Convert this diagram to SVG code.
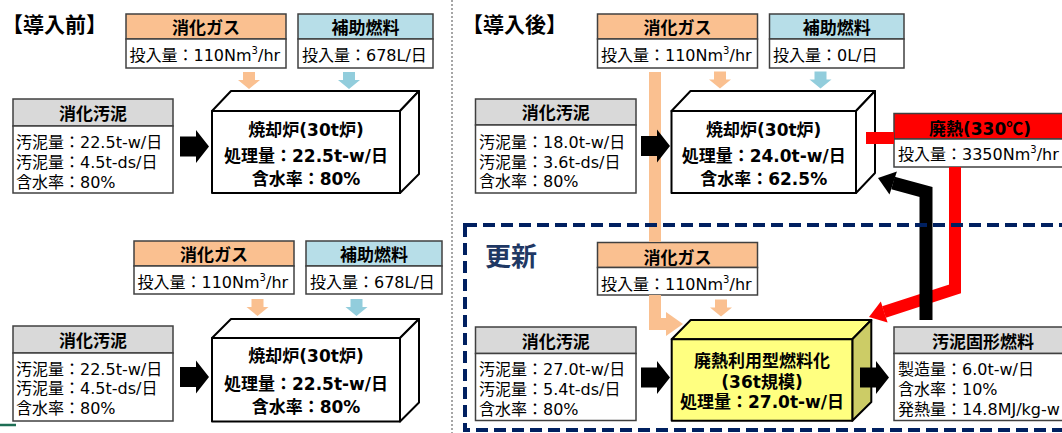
<svg xmlns="http://www.w3.org/2000/svg" xmlns:xlink="http://www.w3.org/1999/xlink" width="1062" height="433" viewBox="0 0 1062 433">
<style>
.t{font-family:"DejaVu Sans","Noto Sans CJK JP",sans-serif;font-size:16px;fill:#000}
.b{font-family:"DejaVu Sans","Noto Sans CJK JP",sans-serif;font-size:17px;font-weight:bold;fill:#000;text-anchor:middle}
.ttl{font-family:"Noto Sans CJK JP",sans-serif;font-size:21px;font-weight:bold;fill:#000}
.cjk{font-family:"Noto Sans CJK JP",sans-serif}
.bx{fill:#fff;stroke:#404040;stroke-width:1.5}
.ho{fill:#fac090;stroke:#404040;stroke-width:1.5}
.hb{fill:#b7dee8;stroke:#404040;stroke-width:1.5}
.hg{fill:#d9d9d9;stroke:#404040;stroke-width:1.5}
.hr{fill:#ff0000;stroke:#404040;stroke-width:1.5}
.f{fill:#fff;stroke:#000;stroke-width:2;stroke-linejoin:round}
.fy{fill:#ffff80;stroke:#000;stroke-width:2;stroke-linejoin:round}
.fys{fill:#cccc66;stroke:#000;stroke-width:2;stroke-linejoin:round}
.ao{fill:#fac090}
.ab{fill:#92cddc}
.ak{fill:#000}
</style>
<defs>
<path id="dn" d="M-6,0 H6 V8 H11 L0,17 L-11,8 H-6 Z"/>
<path id="ra" d="M0,-10 H16 V-16.5 L29,0 L16,16.5 V10 H0 Z"/>
</defs>

<line x1="452" y1="0" x2="452" y2="433" stroke="#a6a6a6" stroke-width="2" stroke-dasharray="2 2"/>
<line x1="0" y1="425" x2="16" y2="425" stroke="#1d6e54" stroke-width="2.5"/>

<text class="ttl" x="2" y="32">【導入前】</text>
<text class="ttl" x="462" y="32">【導入後】</text>

<!-- LEFT TOP -->
<g id="gas-L1">
<rect class="ho" x="126" y="14" width="160" height="25"/>
<rect class="bx" x="126" y="39" width="160" height="29"/>
<text class="b" x="206" y="34">消化ガス</text>
<text class="t" x="129.5" y="61">投入量：110Nm<tspan font-size="10" dy="-7">3</tspan><tspan dy="7">/hr</tspan></text>
</g>
<g id="fuel-L1">
<rect class="hb" x="298" y="14" width="135" height="25"/>
<rect class="bx" x="298" y="39" width="135" height="29"/>
<text class="b" x="365.5" y="34">補助燃料</text>
<text class="t" x="302" y="61">投入量：678L/日</text>
</g>
<g id="sludge-L1">
<rect class="hg" x="13" y="99" width="160" height="27"/>
<rect class="bx" x="13" y="126" width="160" height="67"/>
<text class="b" x="93" y="120">消化汚泥</text>
<text class="t" x="16" y="148">汚泥量：22.5t-w/日</text>
<text class="t" x="16" y="168">汚泥量：4.5t-ds/日</text>
<text class="t" x="16" y="188">含水率：80%</text>
</g>
<g id="furnace-L1">
<polygon class="f" points="212,111 231,91 419,91 400,111"/>
<polygon class="f" points="400,111 419,91 419,174 400,193"/>
<rect class="f" x="212" y="111" width="188" height="82"/>
<text class="b" x="306" y="136">焼却炉(30t炉)</text>
<text class="b" x="306" y="162">処理量：22.5t-w/日</text>
<text class="b" x="306" y="185">含水率：80%</text>
</g>

<!-- LEFT BOTTOM -->
<g id="gas-L2">
<rect class="ho" x="134" y="241" width="160" height="25"/>
<rect class="bx" x="134" y="266" width="160" height="28"/>
<text class="b" x="214" y="261">消化ガス</text>
<text class="t" x="137.5" y="288">投入量：110Nm<tspan font-size="10" dy="-7">3</tspan><tspan dy="7">/hr</tspan></text>
</g>
<g id="fuel-L2">
<rect class="hb" x="306" y="241" width="136" height="25"/>
<rect class="bx" x="306" y="266" width="136" height="28"/>
<text class="b" x="374" y="261">補助燃料</text>
<text class="t" x="310" y="288">投入量：678L/日</text>
</g>
<g id="sludge-L2">
<rect class="hg" x="13" y="326" width="160" height="27"/>
<rect class="bx" x="13" y="353" width="160" height="68"/>
<text class="b" x="93" y="347">消化汚泥</text>
<text class="t" x="16" y="375">汚泥量：22.5t-w/日</text>
<text class="t" x="16" y="394">汚泥量：4.5t-ds/日</text>
<text class="t" x="16" y="414">含水率：80%</text>
</g>
<g id="furnace-L2">
<polygon class="f" points="212,338 231,319 419,319 400,338"/>
<polygon class="f" points="400,338 419,319 419,402.5 400,421.5"/>
<rect class="f" x="212" y="338" width="188" height="83.5"/>
<text class="b" x="306" y="362">焼却炉(30t炉)</text>
<text class="b" x="306" y="390">処理量：22.5t-w/日</text>
<text class="b" x="306" y="413">含水率：80%</text>
</g>

<!-- RIGHT TOP -->
<g id="gas-R1">
<rect class="ho" x="597.5" y="14" width="160" height="25"/>
<rect class="bx" x="597.5" y="39" width="160" height="29"/>
<text class="b" x="677.5" y="34">消化ガス</text>
<text class="t" x="601" y="61">投入量：110Nm<tspan font-size="10" dy="-7">3</tspan><tspan dy="7">/hr</tspan></text>
</g>
<g id="fuel-R1">
<rect class="hb" x="769.5" y="14" width="134.5" height="25"/>
<rect class="bx" x="769.5" y="39" width="134.5" height="29"/>
<text class="b" x="836.7" y="34">補助燃料</text>
<text class="t" x="773" y="61">投入量：0L/日</text>
</g>
<g id="sludge-R1">
<rect class="hg" x="475.5" y="99" width="160.5" height="26"/>
<rect class="bx" x="475.5" y="125" width="160.5" height="68"/>
<text class="b" x="555.7" y="119">消化汚泥</text>
<text class="t" x="479" y="148">汚泥量：18.0t-w/日</text>
<text class="t" x="479" y="168">汚泥量：3.6t-ds/日</text>
<text class="t" x="479" y="187">含水率：80%</text>
</g>
<g id="furnace-R1">
<polygon class="f" points="671.5,111 690.5,91 875,91 856,111"/>
<polygon class="f" points="856,111 875,91 875,173 856,193"/>
<rect class="f" x="671.5" y="111" width="184.5" height="82"/>
<text class="b" x="763.7" y="136">焼却炉(30t炉)</text>
<text class="b" x="763.7" y="162">処理量：24.0t-w/日</text>
<text class="b" x="763.7" y="185">含水率：62.5%</text>
</g>
<g id="heat">
<rect class="hr" x="894" y="113.5" width="172" height="25.5"/>
<rect class="bx" x="894" y="139" width="172" height="28"/>
<text class="b" x="980" y="134.5">廃熱(330<tspan class="cjk">℃</tspan>)</text>
<text class="t" x="898" y="160">投入量：3350Nm<tspan font-size="10" dy="-7">3</tspan><tspan dy="7">/hr</tspan></text>
</g>

<!-- RIGHT BOTTOM -->
<text x="485" y="266" font-family="Noto Sans CJK JP,sans-serif" font-size="26" font-weight="bold" fill="#1f3864">更新</text>
<g id="gas-R2">
<rect class="ho" x="597.5" y="242.5" width="160" height="25"/>
<rect class="bx" x="597.5" y="267.5" width="160" height="27.5"/>
<text class="b" x="677.5" y="263.5">消化ガス</text>
<text class="t" x="601" y="290">投入量：110Nm<tspan font-size="10" dy="-7">3</tspan><tspan dy="7">/hr</tspan></text>
</g>
<g id="sludge-R2">
<rect class="hg" x="475.5" y="327" width="160.5" height="26.5"/>
<rect class="bx" x="475.5" y="353.5" width="160.5" height="67"/>
<text class="b" x="555.7" y="348">消化汚泥</text>
<text class="t" x="479" y="375">汚泥量：27.0t-w/日</text>
<text class="t" x="479" y="394.5">汚泥量：5.4t-ds/日</text>
<text class="t" x="479" y="414.5">含水率：80%</text>
</g>
<g id="fuelize">
<polygon class="fy" points="671.7,339.3 690.7,320 871.3,320 852.3,339.3"/>
<polygon class="fys" points="852.3,339.3 871.3,320 871.3,402 852.3,420.7"/>
<rect class="fy" x="671.7" y="339.3" width="180.6" height="81.4"/>
<text class="b" x="762" y="366.5">廃熱利用型燃料化</text>
<text class="b" x="762" y="388">(36t規模)</text>
<text class="b" x="762" y="408">処理量：27.0t-w/日</text>
</g>
<g id="solid-fuel">
<rect class="hg" x="894" y="327" width="178" height="26.5"/>
<rect class="bx" x="894" y="353.5" width="178" height="67"/>
<text class="b" x="983" y="348">汚泥固形燃料</text>
<text class="t" x="898" y="375">製造量：6.0t-w/日</text>
<text class="t" x="898" y="394.5">含水率：10%</text>
<text class="t" x="898" y="414.5">発熱量：14.8MJ/kg-w</text>
</g>

<g id="connectors">
<use xlink:href="#dn" class="ao" x="249" y="72"/>
<use xlink:href="#dn" class="ab" x="349" y="72"/>
<use xlink:href="#dn" class="ao" x="257.5" y="299"/>
<use xlink:href="#dn" class="ab" x="356.5" y="299"/>
<use xlink:href="#dn" class="ao" x="720" y="71.5"/>
<use xlink:href="#dn" class="ab" x="820.5" y="71.5"/>
<use xlink:href="#dn" class="ao" x="721" y="299.5"/>
<path d="M655,72 V242" fill="none" stroke="#fac090" stroke-width="12"/>
<path d="M655,295 V324 H668" fill="none" stroke="#fac090" stroke-width="12" stroke-linejoin="miter"/>
<polygon class="ao" points="666,312 683,324 666,336"/>
<rect x="866" y="132" width="28" height="12" fill="#ff0000"/>
<polyline points="955,167 955,289 884,312" fill="none" stroke="#ff0000" stroke-width="12" stroke-linejoin="miter"/>
<polygon points="869,317 887.6,322.5 880.8,301.5" fill="#ff0000"/>
<polyline points="926,320 926,192 893,183" fill="none" stroke="#000" stroke-width="13" stroke-linejoin="miter"/>
<polygon points="878,178 896.9,171.6 889.5,194.4" fill="#000"/>
<use xlink:href="#ra" class="ak" x="180" y="146.5"/>
<use xlink:href="#ra" class="ak" x="180" y="377"/>
<use xlink:href="#ra" class="ak" x="641" y="146"/>
<use xlink:href="#ra" class="ak" x="641" y="377.5"/>
<use xlink:href="#ra" class="ak" x="860" y="377.5"/>
</g>

<rect id="update-frame" x="465" y="225" width="620" height="205" fill="none" stroke="#002060" stroke-width="4" stroke-dasharray="12 6"/>
</svg>
